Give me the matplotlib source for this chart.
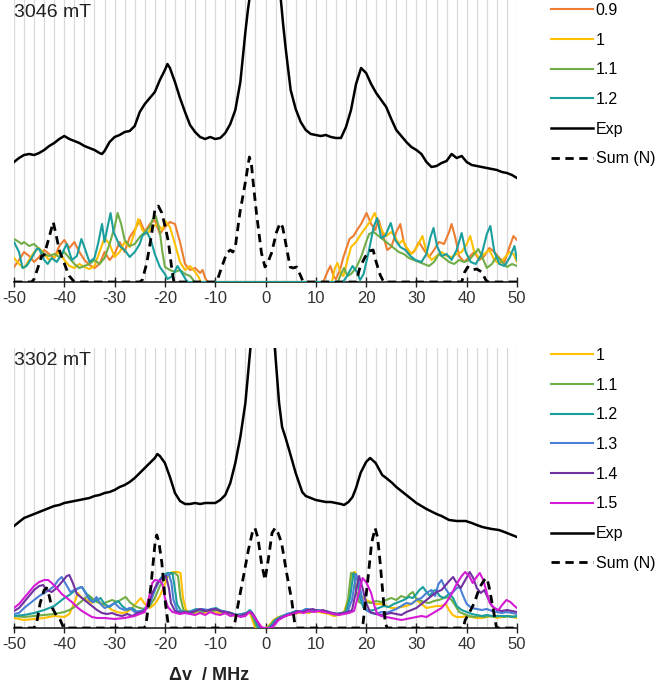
import numpy as np
import matplotlib.pyplot as plt
from matplotlib.ticker import MultipleLocator

plt.rcParams['font.family'] = ['Liberation Sans', 'DejaVu Sans']
plt.rcParams['axes.unicode_minus'] = False

# colours for the scaling factors
colors = {'0.9': '#ED7D31', '1': '#FFC000', '1.1': '#70AD47', '1.2': '#1A9E9E',
          '1.3': '#4A7FD6', '1.4': '#7030A0', '1.5': '#D41AD4'}

# ---------------- 3046 mT ----------------
top_09 = [(-50,15),(-49,22),(-48,30),(-47,26),(-46,20),(-45,25),(-44,32),(-43,28),(-42,24),(-41,36),(-40,42),(-39,34),(-38,40),(-37,30),(-36,22),(-35,17),(-34,14),(-33,18),(-32,30),(-31,22),(-30,28),(-29,40),(-28,30),(-27,45),(-26,52),(-25,62),(-24,50),(-23,58),(-22,62),(-21,48),(-20,55),(-19,60),(-18,58),(-17,40),(-16,18),(-15,12),(-14,14),(-13,9),(-12.5,12),(-12,4),(-11.5,0),
          (11.5,0),(12.3,10),(12.9,16),(13.6,5),(14,3),(14.8,12),(15.5,25),(16.7,43),(17.5,46),(18.2,52),(19,58),(20.1,69),(21,58),(21.8,52),(22.5,62),(23.2,50),(24.2,32),(25,35),(26,50),(26.8,58),(27.5,40),(28.5,28),(29.5,30),(30.5,40),(31.5,32),(32.5,25),(33.5,32),(34.5,40),(35.5,38),(36.5,50),(37,58),(37.7,45),(38.5,26),(39.5,20),(40.5,25),(41.5,30),(42.5,22),(43.5,26),(44.5,34),(45.5,30),(46.5,24),(47.5,20),(48.5,35),(49.3,46),(50,42)]
top_10 = [(-50,24),(-49,18),(-48,14),(-47,22),(-46,30),(-45,34),(-44,28),(-43,22),(-42,25),(-41,30),(-40,22),(-39,16),(-38,14),(-37,18),(-36,15),(-35,13),(-34,16),(-33,30),(-32,44),(-31,38),(-30,25),(-29,30),(-28,40),(-27,35),(-26,50),(-25.3,63),(-24.5,52),(-23.5,48),(-22.5,55),(-21.5,58),(-20.5,52),(-19.9,61),(-19,55),(-18,38),(-17,20),(-16,12),(-15,16),(-14,10),(-13.3,5),(-12.9,0),
          (13.2,0),(13.8,14),(14.3,19),(15,8),(15.5,6),(16.2,20),(17,35),(18,40),(19,48),(20,55),(21,62),(21.7,69),(22.5,58),(23.3,50),(24,46),(25,50),(25.8,45),(26.5,38),(27.3,42),(28,35),(29,28),(30,34),(31.2,46),(32,30),(33,22),(34,26),(35,30),(36,26),(37,25),(38,28),(39,30),(40,38),(40.7,46),(41.5,30),(42.5,24),(43.5,28),(44.5,32),(45.5,22),(46.5,18),(47.5,24),(48.5,30),(49.3,28),(50,20)]
top_11 = [(-50,43),(-49,40),(-48.5,38),(-48,40),(-47,36),(-46,38),(-45,33),(-44,28),(-43,26),(-42,28),(-41,25),(-40,30),(-39,24),(-38,18),(-37,14),(-36,16),(-35,18),(-34,22),(-33,18),(-32,24),(-31,38),(-30,55),(-29.4,69),(-28.7,58),(-28,42),(-27,36),(-26,38),(-25,45),(-24,50),(-23,55),(-22.5,62),(-21.8,66),(-21,50),(-20.5,30),(-20,15),(-19,12),(-18,10),(-17,12),(-16,8),(-15,6),(-14.5,3),(-14.2,0),
          (14.4,0),(15,8),(15.6,14),(16.3,6),(17,8),(18,14),(19,25),(20,40),(20.6,48),(21.5,50),(22.5,46),(23.5,42),(24.5,38),(25.5,34),(26.5,30),(27.5,28),(28.5,24),(29.5,22),(30.5,20),(31.5,18),(32.5,16),(33.5,20),(34.5,28),(35.5,24),(36.5,20),(37.5,18),(38.5,22),(39.5,20),(40.5,22),(41.5,28),(42.3,33),(43,26),(44,14),(45,18),(46,26),(47,20),(48,15),(49,18),(50,16)]
top_12 = [(-50,40),(-49,30),(-48.3,14),(-47.5,16),(-46.5,24),(-45.5,33),(-45,33),(-44,22),(-43.3,18),(-42.5,24),(-41.5,20),(-40.5,28),(-39.5,38),(-38.5,22),(-37.5,26),(-36.6,43),(-35.8,32),(-35,20),(-34,24),(-33.3,38),(-32.5,58),(-32,40),(-31.4,55),(-30.8,69),(-30.2,50),(-29.5,42),(-29,36),(-28,32),(-27,25),(-26,30),(-25,38),(-24.5,46),(-23.6,50),(-22.8,42),(-22,28),(-21,15),(-20,8),(-19.5,3),(-18.5,6),(-17.5,16),(-16.5,8),(-15.8,2),(-15.4,0),
          (15.4,0),(16.2,6),(17.3,16),(18.2,10),(18.8,2),(19.5,8),(20.5,30),(21.5,55),(22.2,64),(23,44),(23.8,46),(24.9,59),(25.8,42),(26.8,35),(27.8,32),(28.8,26),(29.8,22),(31,20),(32,28),(32.8,45),(33.4,54),(34.1,36),(35,26),(36,28),(37,22),(38,32),(39,49),(39.8,30),(40.8,20),(41.8,18),(43,28),(44,48),(44.7,56),(45.5,30),(46.5,18),(47.5,16),(48.5,24),(49.5,36),(50,22)]
top_exp = [(-50,120),(-49,124),(-48,127),(-47,128),(-46,127),(-45,129),(-44,132),(-43,136),(-42,139),(-41,143),(-40,146),(-39,143),(-38,141),(-37,139),(-36,136),(-35,134),(-34,132),(-33,129),(-32.5,128),(-32,131),(-31,140),(-30,145),(-29,147),(-28,150),(-27,151),(-26,156),(-25,170),(-24,178),(-23,184),(-22,190),(-21,202),(-20,212),(-19.5,218),(-19,214),(-18,200),(-17,184),(-16,170),(-15,157),(-14,150),(-13,145),(-12,143),(-11,145),(-10,143),(-9,144),(-8,149),(-7,158),(-6,172),(-5,200),(-4.5,225),(-4,250),(-3.5,272),(-3,290),(-2,380),(-1,500),(0,600),(1,500),(2,370),(3,285),(3.5,258),(4,234),(5,192),(6,173),(7,160),(8,152),(9,148),(10,147),(11,146),(12,147),(13,145),(14,144),(15,144),(16,155),(17,172),(18,198),(19,214),(20,209),(21,198),(22,189),(23,182),(24,175),(25,163),(26,152),(27,146),(28,140),(29,135),(30,132),(31,128),(32,120),(33,115),(34,116),(35,119),(36,121),(37,128),(38,124),(39,126),(40,120),(41,117),(42,116),(43,115),(44,114),(45,113),(46,112),(47,110),(48,109),(49,107),(50,104)]
top_sum = [(-50,0),(-46.5,0),(-46,3),(-45,18),(-44.5,26),(-44,27),(-43,45),(-42.2,60),(-41.5,44),(-41,32),(-40.5,25),(-39.5,12),(-39,6),(-38,0),(-25,0),(-24.5,2),(-23.6,19),(-22.6,49),(-22,72),(-21.3,76),(-20.6,69),(-19.8,52),(-19.3,40),(-18.6,12),(-18.2,0),(-10,0),(-9.5,3),(-8.7,15),(-7.7,29),(-7,32),(-6.5,30),(-6,35),(-5.1,69),(-4.1,97),(-3.2,125),(-2.8,118),(-2.5,102),(-1.8,69),(-0.8,29),(-0.1,15),(0.5,20),(1.2,29),(2.2,50),(2.9,59),(3.4,55),(3.9,42),(4.9,15),(5.5,14),(6.2,15),(7,6),(7.5,0),(18,0),(18.8,15),(19.8,25),(20.6,31),(21.4,32),(22,20),(22.8,7),(23.5,0),(39,0),(39.6,10),(40.2,15),(41,12),(42,13),(43,10),(43.8,2),(44.2,0),(50,0)]

# ---------------- 3302 mT ----------------
bot_10 = [(-50,10),(-48,8),(-46,9),(-44,10),(-42,12),(-40,11),(-39,14),(-38,25),(-37.3,35),(-36.5,30),(-35.5,28),(-34.5,25),(-33.5,28),(-32.5,24),(-31.5,22),(-30.5,18),(-29.5,16),(-28.5,15),(-27.5,16),(-26.5,20),(-25.5,26),(-24.8,30),(-24,24),(-23,20),(-22,24),(-21,32),(-20,44),(-19.2,54),(-18.5,56),(-17.5,56),(-16.9,55),(-16.4,30),(-15.8,18),(-14.8,15),(-13.8,14),(-12.8,16),(-11.8,15),(-10.8,17),(-9.8,16),(-8.8,14),(-7.8,15),(-6.8,13),(-5.8,12),(-4.8,13),(-3.8,14),(-3.2,16),(-2.6,8),(-2.1,1),(-1.5,0),
          (0.2,0),(0.8,3),(1.6,8),(2.6,11),(3.6,12),(4.6,13),(5.6,14),(6.6,15),(7.6,16),(8.6,15),(9.6,17),(10.6,16),(11.6,15),(12.6,14),(13.6,12),(14.6,13),(15.6,16),(16.5,30),(17.1,55),(17.8,56),(18.3,50),(18.7,36),(19.2,31),(20,28),(21,26),(22,24),(23,24),(24,22),(25,20),(26,20),(27,21),(28,22),(29,24),(30,28),(31,24),(32,20),(33,21),(34,22),(35,22),(35.8,24),(36.5,18),(37.2,13),(38,11),(39,11),(40,12),(41,11),(42,10),(43,10),(44,11),(45,12),(46,10),(47,11),(48,12),(49,11),(50,10)]
bot_11 = [(-50,12),(-48,11),(-46,12),(-44,13),(-42,14),(-40,16),(-39,18),(-38,21),(-37,25),(-36,29),(-35.2,33),(-34.5,30),(-33.5,26),(-32.5,24),(-31.5,26),(-30.5,28),(-29.5,26),(-28.5,29),(-27.8,31),(-27,26),(-26,22),(-25,20),(-24,19),(-23,22),(-22,30),(-21,42),(-20,50),(-19,54),(-18,55),(-17.4,52),(-16.9,30),(-16.3,18),(-15.5,16),(-14.5,15),(-13.5,17),(-12.5,16),(-11.5,18),(-10.5,17),(-9.5,18),(-8.5,15),(-7.5,16),(-6.5,14),(-5.5,13),(-4.5,14),(-3.5,15),(-3,17),(-2.4,9),(-1.8,1),(-1.2,0),
          (0.4,0),(1,3),(1.8,8),(2.8,11),(3.8,13),(4.8,14),(5.8,15),(6.8,16),(7.8,17),(8.8,16),(9.8,17),(10.8,17),(11.8,16),(12.8,15),(13.8,13),(14.8,14),(15.8,16),(16.4,28),(17,55),(17.6,52),(18,38),(18.6,26),(19.3,24),(20,26),(21,25),(22,27),(23,26),(24,28),(25,30),(26,28),(27,32),(28,30),(28.7,34),(29.3,36),(29.9,30),(30.5,28),(31.5,26),(32.5,25),(33.5,27),(34.5,28),(35.5,30),(36.3,31),(37,28),(37.8,22),(38.5,16),(39.5,14),(40.5,12),(41.5,11),(42.5,12),(43.5,11),(44.5,12),(45.5,11),(46.5,12),(47.5,11),(48.5,12),(50,11)]
bot_12 = [(-50,12),(-48,13),(-46,15),(-44,18),(-42,22),(-41,26),(-40,30),(-39,33),(-38,37),(-37.2,40),(-36.5,41),(-35.8,36),(-35,30),(-34.2,26),(-33.5,28),(-32.8,30),(-32,24),(-31,21),(-30,25),(-29.3,27),(-28.5,22),(-27.5,18),(-26.5,20),(-25.5,16),(-24.5,17),(-23.5,22),(-22.5,32),(-21.5,45),(-20.5,52),(-19.5,55),(-18.5,55),(-18.1,42),(-17.6,24),(-16.8,17),(-15.8,16),(-14.8,17),(-13.8,19),(-12.8,18),(-11.8,17),(-10.8,19),(-9.8,20),(-8.8,17),(-7.8,16),(-6.8,15),(-5.8,13),(-4.8,14),(-3.8,15),(-3.1,18),(-2.2,10),(-1.5,1),(-1,0),
          (0.6,0),(1.2,3),(2,8),(3,11),(4,13),(5,15),(6,17),(7,16),(8,19),(9,17),(10,18),(11,17),(12,16),(13,15),(14,14),(15,15),(16,16),(16.8,30),(17.5,55),(18.3,48),(18.8,30),(19.5,20),(20.5,17),(21.5,18),(22.5,20),(23.5,22),(24.5,21),(25.5,24),(26.5,26),(27.5,28),(28.5,31),(29.3,30),(30,34),(30.6,38),(31.3,41),(32,36),(32.7,32),(33.3,37),(33.9,38),(34.6,32),(35.5,30),(36.5,34),(37.3,30),(38,22),(39,18),(40,16),(41,14),(42,13),(43,12),(44,13),(45,12),(46,12),(47,12),(48,12),(49,11),(50,12)]
bot_13 = [(-50,14),(-49,15),(-48,20),(-47,24),(-46,28),(-45,32),(-44,35),(-43,38),(-42,42),(-41.2,48),(-40.5,51),(-39.7,44),(-38.8,36),(-38,38),(-37,40),(-36.5,41),(-35.8,35),(-35,28),(-34.3,26),(-33.6,31),(-32.8,24),(-32,20),(-31,22),(-30,25),(-29,20),(-28,18),(-27,20),(-26,16),(-25,17),(-24,18),(-23,24),(-22,38),(-21,48),(-20,52),(-19.2,54),(-18.7,45),(-18.3,28),(-17.5,17),(-16.5,16),(-15.5,15),(-14.5,17),(-13.5,18),(-12.5,19),(-11.5,18),(-10.5,19),(-9.5,18),(-8.5,17),(-7.5,16),(-6.5,14),(-5.5,13),(-4.5,14),(-3.5,15),(-2.9,17),(-2,10),(-1.2,1),(-0.8,0),
          (0.8,0),(1.4,3),(2.2,8),(3.2,11),(4.2,14),(5.2,15),(6.2,16),(7.2,17),(8.2,19),(9.2,18),(10.2,18),(11.2,17),(12.2,17),(13.2,15),(14.2,14),(15.2,15),(16.2,15),(17.2,28),(18,54),(18.6,45),(19.2,30),(20,18),(21,15),(22,14),(23,16),(24,15),(25,17),(26,19),(27,22),(28,25),(29,24),(30,28),(31,30),(32,35),(33,38),(33.7,32),(34.4,44),(35,48),(35.7,40),(36.5,34),(37.3,36),(38,40),(38.6,41),(39.3,32),(40,24),(41,20),(42,19),(43,18),(44,19),(45,17),(46,16),(47,15),(48,16),(49,15),(50,14)]
bot_14 = [(-50,17),(-49,20),(-48,26),(-47,32),(-46,38),(-45,42),(-44.2,43),(-43.5,38),(-42.5,36),(-41.5,40),(-40.5,46),(-39.5,52),(-39,53),(-38.3,45),(-37.5,34),(-36.5,30),(-35.5,26),(-34.5,22),(-33.5,18),(-32.5,15),(-31.5,14),(-30.5,15),(-29.5,13),(-28.5,12),(-27.5,14),(-26.5,12),(-25.5,15),(-24.5,16),(-23.5,20),(-22.5,35),(-21.5,45),(-20.5,50),(-19.8,52),(-19.2,40),(-18.8,25),(-18,17),(-17,15),(-16,16),(-15,15),(-14,17),(-13,19),(-12,17),(-11,18),(-10,19),(-9,17),(-8,16),(-7,15),(-6,13),(-5,12),(-4,14),(-3.2,16),(-2.6,15),(-1.8,8),(-1,1),(-0.6,0),
          (1,0),(1.6,3),(2.4,8),(3.4,11),(4.4,13),(5.4,15),(6.4,17),(7.4,16),(8.4,18),(9.4,19),(10.4,17),(11.4,18),(12.4,16),(13.4,15),(14.4,14),(15.4,15),(16.4,16),(17.2,18),(17.8,32),(18.6,52),(19.3,40),(20,25),(20.8,16),(22,14),(23,13),(24,14),(25,15),(26,14),(27,13),(28,16),(29,18),(30,20),(31,24),(32,28),(33,32),(34,36),(35,38),(36,44),(36.7,48),(37.3,51),(38,45),(38.8,40),(39.5,46),(40.6,56),(41.3,50),(42,40),(42.8,35),(43.5,38),(44.2,30),(45,22),(46,18),(47,17),(48,18),(49,17),(50,16)]
bot_15 = [(-50,20),(-49,24),(-48,30),(-47,36),(-46,42),(-45,46),(-44,48),(-43.2,48),(-42.5,45),(-41.5,40),(-40.5,34),(-39.5,30),(-38.5,26),(-37.5,21),(-36.5,17),(-35.5,14),(-34.5,11),(-33.5,10),(-32,10),(-30,9),(-28,10),(-26,12),(-25,14),(-24,16),(-23.2,30),(-22.5,45),(-22,48),(-21,47),(-20.5,44),(-20,30),(-19.4,21),(-18.5,16),(-17,14),(-16,15),(-15,14),(-14,13),(-13,15),(-12,13),(-11,16),(-10,14),(-9,13),(-8,15),(-7,12),(-6,13),(-5,11),(-4,12),(-3.2,16),(-2.5,13),(-1.5,6),(-0.8,1),(-0.3,0),
          (1.2,0),(1.8,3),(2.6,8),(3.6,11),(4.6,13),(5.6,14),(6.6,16),(7.6,15),(8.6,17),(9.6,16),(10.6,17),(11.6,16),(12.6,15),(13.6,14),(14.6,13),(15.6,14),(16.6,15),(17.6,17),(18.3,30),(19.3,50),(20,46),(21,35),(21.6,23),(22.2,14),(23,12),(24,11),(25,10),(26,9),(27,8),(28,9),(29,10),(30,11),(31,12),(32,11),(33,14),(34,17),(35,20),(36,26),(37,34),(38,44),(39,52),(39.7,56),(40.5,52),(41.2,45),(41.8,50),(42.6,55),(43.3,48),(44,35),(44.6,25),(45.5,20),(46.3,18),(47.2,24),(47.9,28),(48.7,26),(49.5,22),(50,20)]
bot_exp = [(-50,102),(-49,106),(-48,110),(-47,112),(-46,114),(-45,116),(-44,118),(-43,120),(-42,122),(-41,123),(-40,125),(-39,126),(-38,127),(-37,128),(-36,129),(-35,130),(-34,132),(-33,133),(-32,135),(-31,136),(-30,138),(-29,141),(-28,143),(-27,146),(-26,150),(-25,155),(-24,160),(-23,165),(-22,170),(-21.5,174),(-21,172),(-20,165),(-19,151),(-18,135),(-17,127),(-16,124),(-15,124),(-14,125),(-13,124),(-12,125),(-11,125),(-10,125),(-9,128),(-8,133),(-7,145),(-6,165),(-5,191),(-4,225),(-3,280),(-2,360),(-1,450),(0,480),(1,400),(1.7,290),(2.7,225),(3.3,201),(4,190),(4.7,178),(6,155),(7.3,136),(8,132),(9,130),(10,128),(11,127),(12,126),(13,126),(14,125),(15,124),(15.6,123),(16.5,126),(17.3,131),(18,140),(18.9,155),(20,166),(20.8,170),(21.9,165),(23.2,153),(24,150),(25.2,145),(26,141),(27,137),(28,133),(29,129),(30,125),(31,122),(32,119),(33.2,116),(34,114),(35,112),(36.5,108),(38,107),(39.8,107),(41,105),(42,103),(43.1,101),(44,100),(45,99),(46.4,98),(47.5,96),(48.5,94),(50,91)]
bot_sum = [(-50,0),(-46,0),(-45.5,5),(-44.8,25),(-44,38),(-43.5,40),(-43,32),(-42.5,21),(-41.5,12),(-40.8,8),(-40.2,1),(-39.8,0),(-24.2,0),(-23.8,2),(-22.8,41),(-21.9,88),(-21.6,93),(-21.2,86),(-20.6,65),(-19.9,25),(-19.3,2),(-19,0),(-6.5,0),(-6.1,5),(-5.4,25),(-4.4,51),(-3.4,78),(-2.5,98),(-2.1,100),(-1.5,90),(-0.8,65),(-0.1,48),(0.6,70),(1.3,95),(1.9,100),(2.5,95),(3.2,85),(4.2,55),(5.2,28),(5.8,5),(6.2,0),(19,0),(19.4,5),(20.4,51),(21.1,85),(21.8,100),(22.3,90),(22.8,65),(23.5,25),(23.8,5),(24.2,0),(39.3,0),(39.7,8),(40.5,15),(41.5,25),(42.6,41),(43.5,48),(44,50),(44.5,40),(45.3,18),(45.9,1),(46.3,0),(50,0)]

panels = [
    ('3046 mT', [('0.9', top_09), ('1', top_10), ('1.1', top_11), ('1.2', top_12)], top_exp, top_sum),
    ('3302 mT', [('1', bot_10), ('1.1', bot_11), ('1.2', bot_12), ('1.3', bot_13),
                 ('1.4', bot_14), ('1.5', bot_15)], bot_exp, bot_sum),
]

W, H = 664, 691
fig = plt.figure(figsize=(W / 100, H / 100), dpi=100)
# axes rectangles in pixels: left, baseline, right, top
boxes = [(14, 282, 517, 0), (14, 628, 517, 348)]
leg_top = [3, 348]

for (title, sims, exp, summ), (l, b, r, t), lt in zip(panels, boxes, leg_top):
    ax = fig.add_axes([l / W, 1 - b / H, (r - l) / W, (b - t) / H])
    for lab, data in sims:
        d = np.array(data)
        ax.plot(d[:, 0], d[:, 1], color=colors[lab], lw=1.5, label=lab, zorder=3)
    d = np.array(exp)
    ax.plot(d[:, 0], d[:, 1], color='black', lw=1.8, label='Exp', zorder=4)
    d = np.array(summ)
    ax.plot(d[:, 0], d[:, 1], color='black', lw=2.0, ls=(0, (3, 2)), label='Sum (N)', zorder=5)

    ax.set_xlim(-50, 50)
    ax.set_ylim(0, b - t)
    ax.xaxis.set_major_locator(MultipleLocator(10))
    ax.xaxis.set_minor_locator(MultipleLocator(2))
    ax.grid(axis='x', which='both', color='#D9D9D9', lw=0.9, zorder=0)
    ax.set_axisbelow(True)
    ax.set_yticks([])
    for s in ['top', 'left', 'right']:
        ax.spines[s].set_visible(False)
    ax.spines['bottom'].set_color('#222222')
    ax.spines['bottom'].set_linewidth(1.2)
    ax.spines['bottom'].set_zorder(2)
    ax.tick_params(axis='x', which='major', direction='inout', length=7, width=1,
                   color='#222222', labelsize=12, labelcolor='#333333', pad=3)
    ax.tick_params(axis='x', which='minor', length=0)
    ax.text(0.0, 0.985, title, transform=ax.transAxes, ha='left', va='top',
            fontsize=14, color='#222222')
    ax.legend(loc='upper left', bbox_to_anchor=(551 / W, 1 - lt / H),
              bbox_transform=fig.transFigure, frameon=False, fontsize=11.5,
              borderpad=0, borderaxespad=0, handlelength=2.6, handletextpad=0.2,
              labelspacing=0.92)

fig.text(209 / W, 1 - 675 / H, 'Δv  / MHz', ha='center', va='center',
         fontsize=13, fontweight='bold', color='#222222')

fig.savefig('out.png', dpi=100)
